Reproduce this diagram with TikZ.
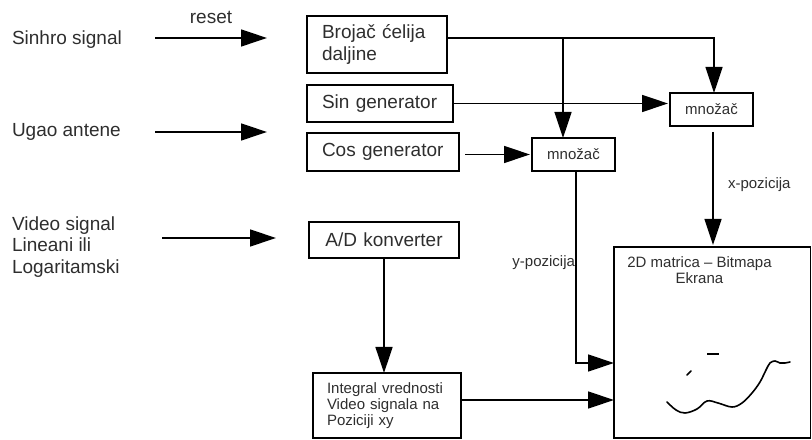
\documentclass[tikz,border=0pt]{standalone}
\usepackage{fontspec}
\setmainfont{Liberation Sans}
\usetikzlibrary{arrows.meta}
\definecolor{txt}{HTML}{2E2E2E}
\begin{document}
\begin{tikzpicture}[x=1bp,y=-1bp,
  big/.style={font=\fontsize{19bp}{21.5bp}\selectfont},
  small/.style={font=\fontsize{15bp}{15.8bp}\selectfont},
  lbl/.style={text=txt, inner sep=0pt, outer sep=0pt},
  box/.style={draw=black, line width=1.3bp, anchor=north west, inner ysep=0pt, outer sep=0pt, text=txt},
  conn/.style={line width=1.3bp},
  arr/.style={conn, -{Triangle[length=26bp,width=17bp]}},
]
\useasboundingbox (0,0) rectangle (812,440);

% left labels
\node[lbl, big, anchor=base west] (sinhro) at (12,44.5) {Sinhro signal};
\node[lbl, big, anchor=base west] (ugao) at (12,136.5) {Ugao antene};
\node[lbl, big, anchor=north west, align=left] (video) at (12,216.5) {Video signal\\Lineani ili\\Logaritamski};

% blocks
\node[box, big, align=left, text width=110bp, inner xsep=15bp, minimum height=57bp] (brojac) at (307,16) {Brojač ćelija\\daljine};
\node[box, big, align=left, text width=116bp, inner xsep=15bp, minimum height=37bp] (sin) at (307,85) {Sin generator};
\node[box, big, align=left, text width=122bp, inner xsep=15bp, minimum height=38bp] (cos) at (307,133) {Cos generator};
\node[box, big, align=center, text width=120bp, inner xsep=15bp, minimum height=36bp] (ad) at (309,222) {A/D konverter};
\node[box, small, align=left, text width=120bp, inner xsep=14bp, minimum height=65bp] (integ) at (313,373) {Integral vrednosti\\Video signala na\\Poziciji xy};
\node[box, small, align=center, minimum width=83bp, minimum height=33bp, inner xsep=0pt] (m1) at (532,138) {množač};
\node[box, small, align=center, minimum width=83bp, minimum height=33bp, inner xsep=0pt] (m2) at (670,93) {množač};
\node[box, minimum width=196.5bp, minimum height=191bp, inner xsep=0pt] (matrix) at (614,247) {};
\node[lbl, small, align=center, anchor=north] (mlabel) at (699.5,257) {2D matrica – Bitmapa\\Ekrana};

% input arrows
\coordinate (sinhroout) at (155,38);
\coordinate (sinhroend) at (267,38);
\coordinate (ugaoout) at (155,132);
\coordinate (ugaoend) at (267,132);
\coordinate (videoout) at (162,238);
\coordinate (videoend) at (276,238);
\draw[arr] (sinhroout) -- node[lbl, big, anchor=base, yshift=14bp] (reset) {reset} (sinhroend);
\draw[arr] (ugaoout) -- (ugaoend);
\draw[arr] (videoout) -- (videoend);

% internal connectors
\coordinate (bjout) at ([yshift=6.5bp]brojac.east);
\coordinate (m1in) at ([xshift=-10.5bp]m1.north);
\coordinate (m2in) at ([xshift=2.5bp]m2.north);
\draw[arr] (bjout) -| (m2in);
\draw[arr] (bjout -| m1in) -- (m1in);
\draw[arr] (sin.east) -- ([xshift=-2bp]sin.east -| m2.west);
\coordinate (cosout) at ([xshift=6bp]cos.east);
\draw[arr] (cosout |- m1.west) -- ([xshift=-2bp]m1.west);

\coordinate (m1out) at ([xshift=2.5bp]m1.south);
\coordinate (yin) at ([yshift=-20.5bp]matrix.west);
\draw[arr] (m1out) |- (yin);
\node[lbl, small, anchor=east] (ylabel) at (575,263) {y-pozicija};

\coordinate (m2out) at ([xshift=1.5bp,yshift=-6bp]m2.south);
\draw[arr] (m2out) -- ([yshift=2bp]m2out |- matrix.north);
\node[lbl, small, anchor=west] (xlabel) at (728,185) {x-pozicija};

\draw[arr] (ad.south) -- (ad.south |- integ.north);
\coordinate (integout) at ([yshift=5.5bp]integ.east);
\draw[arr] (integout) -- (integout -| matrix.west);

% bitmap scribbles
\draw[line width=1.6bp, line cap=round] plot[smooth, tension=0.6] coordinates {(667,402) (676,410) (685,413) (697,409) (707,401) (718,403) (732,407) (742,403) (752,393) (760,382) (766,370) (770,363) (775,361) (780,363) (785,363) (790,362)};
\draw[line width=1.5bp] (707,354) -- (719,354);
\draw[line width=1.6bp, line cap=round] (687,375) -- (691,371);
\end{tikzpicture}
\end{document}
